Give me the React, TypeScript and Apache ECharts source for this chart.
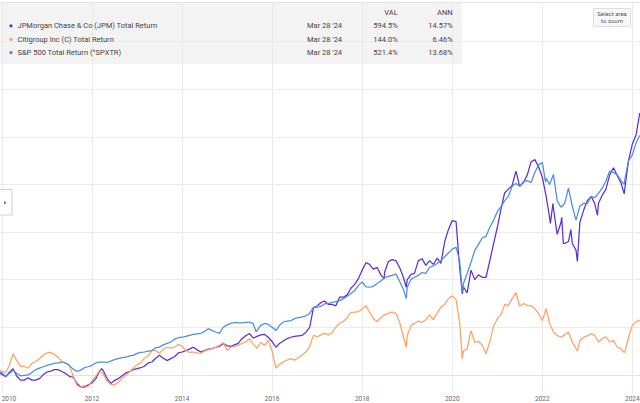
import React, { useEffect, useRef } from "react";
import * as echarts from "echarts";

// Monthly points (1st of each month), starting December 2009
const FIRST_YEAR = 2009;
const FIRST_MONTH_INDEX = 11;

// Total return (%)
const jpmMonthly = [
  5,
  1, -4, 5, 13, -3, -11, -11, -6, -11, -11, -8, 0,
  6, 8, 11, 11, 7, 3, -3, -5, -18, -25, -26, -21,
  -17, -8, 7, 9, -7, -18, -12, -8, -2, 4, 7, 11,
  13, 15, 18, 25, 27, 35, 41, 35, 30, 34, 38, 46,
  48, 51, 54, 58, 53, 48, 51, 54, 55, 58, 60, 66,
  61, 60, 63, 66, 76, 82, 87, 77, 81, 84, 85, 79,
  70, 58, 66, 71, 76, 79, 81, 82, 83, 89, 100, 140,
  145, 152, 155, 148, 148, 145, 163, 163, 168, 182, 190, 202,
  220, 236, 232, 222, 226, 210, 215, 238, 242, 240, 225, 205,
  200, 211, 213, 240, 244, 230, 240, 232, 245, 234, 280, 305,
  324, 322, 225, 185, 172, 220, 200, 210, 205, 205, 240, 275,
  310, 350, 382, 390, 398, 428, 396, 404, 420, 447, 452, 437,
  415, 375, 330, 350, 295, 320, 276, 280, 276, 262, 320, 345,
  366, 375, 360, 360, 377, 390, 420, 435, 418, 403, 392, 450,
  485, 505, 550,
];
const jpmExtraDates = [
  "2012-03-20", "2018-06-28", "2018-12-24", "2020-03-23", "2022-03-07", "2022-03-28",
  "2022-06-07", "2022-06-20", "2022-08-20", "2022-10-12", "2023-03-24", "2023-10-27",
];
const jpmExtraValues = [13, 202, 184, 170, 318, 360, 331, 276, 305, 238, 335, 380];

const citiMonthly = [
  12,
  7, 5, 20, 44, 30, 18, 18, 14, 24, 28, 34, 41,
  46, 47, 43, 37, 28, 24, 21, -2, -22, -26, -22, -25,
  -12, -3, 9, 2, -12, -20, -21, -16, -7, -1, 6, 14,
  21, 26, 35, 40, 51, 51, 45, 54, 58, 56, 58, 64,
  60, 51, 47, 48, 46, 45, 50, 53, 55, 58, 62, 68,
  51, 58, 60, 62, 66, 69, 76, 64, 56, 68, 62, 72,
  50, 14, 22, 27, 31, 34, 31, 36, 42, 48, 60, 83,
  80, 84, 88, 84, 88, 100, 108, 112, 120, 131, 132, 133,
  138, 145, 132, 118, 112, 120, 126, 129, 132, 129, 110, 80,
  82, 104, 108, 113, 110, 116, 126, 116, 130, 142, 148, 160,
  166, 158, 110, 50, 55, 93, 69, 70, 62, 44, 70, 102,
  118, 127, 148, 146, 160, 173, 144, 150, 146, 145, 139, 129,
  114, 139, 108, 90, 83, 79, 84, 90, 69, 55, 72, 79,
  82, 86, 83, 69, 76, 80, 69, 72, 58, 55, 48, 79,
  104, 112, 115,
];
const citiExtraDates = ["2018-12-24", "2020-03-23", "2022-10-12", "2023-10-27"];
const citiExtraValues = [58, 34, 50, 47];

const spxMonthly = [
  7,
  4, -3, 3, 9, 3, -2, -1, 0, 5, 11, 14, 17,
  20, 22, 24, 25, 27, 25, 20, 12, 7, 10, 15, 17,
  20, 25, 27, 27, 26, 29, 32, 34, 36, 37, 40, 41,
  45, 47, 48, 50, 51, 57, 58, 63, 66, 69, 75, 78,
  79, 81, 83, 85, 86, 87, 91, 97, 93, 90, 87, 100,
  105, 108, 110, 109, 109, 110, 111, 107, 93, 104, 108, 106,
  100, 93, 104, 111, 113, 114, 118, 120, 122, 124, 129, 142,
  142, 144, 149, 150, 152, 154, 156, 160, 165, 171, 177, 188,
  195, 185, 184, 186, 192, 197, 204, 207, 209, 212, 196, 180,
  184, 201, 205, 209, 215, 213, 226, 229, 234, 240, 248, 256,
  264, 268, 240, 192, 213, 236, 261, 274, 288, 291, 310, 324,
  343, 354, 366, 375, 396, 402, 396, 406, 408, 404, 425, 441,
  446, 413, 400, 421, 366, 352, 360, 392, 354, 325, 354, 360,
  360, 375, 372, 381, 392, 407, 428, 425, 420, 408, 410, 450,
  462, 488, 503,
];
const spxExtraDates = ["2015-08-25", "2018-12-24", "2020-03-23", "2022-01-27", "2023-10-27"];
const spxExtraValues = [90, 160, 174, 405, 400];

const seriesNames = [
  "JPMorgan Chase & Co (JPM) Total Return",
  "Citigroup Inc (C) Total Return",
  "S&P 500 Total Return (^SPXTR)",
];
const seriesColors = ["#5d30d4", "#ffa064", "#4a8fdf"];
const valPct = [594.5, 144.0, 521.4];
const annPct = [14.57, 6.46, 13.68];
const asOfLabel = "Mar 28 '24";

const xTickYears = [2010, 2012, 2014, 2016, 2018, 2020, 2022, 2024];
const yGridValues = [0, 100, 200, 300, 400, 500, 600, 700];

const FONT = "Roboto, 'Noto Sans', Arial, sans-serif";

function toTs(s: string): number {
  const [y, m, d] = s.split("-").map(Number);
  return new Date(y, m - 1, d).getTime();
}

function buildData(monthly: number[], exDates: string[], exValues: number[]): [number, number][] {
  const pts: [number, number][] = monthly.map((v, i) => [
    new Date(FIRST_YEAR, FIRST_MONTH_INDEX + i, 1).getTime(),
    v,
  ]);
  exDates.forEach((d, i) => pts.push([toTs(d), exValues[i]]));
  pts.sort((a, b) => a[0] - b[0]);
  return pts;
}

export default function App() {
  const ref = useRef<HTMLDivElement>(null);

  useEffect(() => {
    if (!ref.current) return;
    const chart = echarts.init(ref.current, undefined, { renderer: "svg" });
    const tickTs = xTickYears.map((y) => new Date(y, 0, 1).getTime());
    const datasets = [
      buildData(jpmMonthly, jpmExtraDates, jpmExtraValues),
      buildData(citiMonthly, citiExtraDates, citiExtraValues),
      buildData(spxMonthly, spxExtraDates, spxExtraValues),
    ];

    const rowY = [25.8, 39.3, 52.7];
    const txt = (x: number, y: number, text: string, align: string, size = 7.5, fill = "#444", z = 101) => ({
      type: "text",
      x,
      y,
      style: { text, fill, fontSize: size, fontFamily: FONT, align, verticalAlign: "middle" },
      z,
    });
    const graphics: any[] = [
      {
        type: "line",
        shape: { x1: 0, y1: 2.5, x2: 640, y2: 2.5 },
        style: { stroke: "#e4e4e4", lineWidth: 1 },
        z: 100,
      },
      {
        type: "rect",
        shape: { x: 0, y: 3, width: 462, height: 61 },
        style: { fill: "rgba(234,234,234,0.55)" },
        z: 100,
      },
      txt(397.7, 12.5, "VAL", "right"),
      txt(452.7, 12.5, "ANN", "right"),
    ];
    seriesNames.forEach((name, r) => {
      const y = rowY[r];
      graphics.push(
        { type: "circle", shape: { cx: 11, cy: y, r: 1.6 }, style: { fill: seriesColors[r] }, z: 101 },
        txt(17.5, y, name, "left"),
        txt(307, y, asOfLabel, "left"),
        txt(397.7, y, valPct[r].toFixed(1) + "%", "right"),
        txt(452.7, y, annPct[r].toFixed(2) + "%", "right")
      );
    });
    graphics.push(
      {
        type: "rect",
        shape: { x: 593.5, y: 8.5, width: 37, height: 18 },
        style: { fill: "#f7f7f7", stroke: "#dedede", lineWidth: 1 },
        z: 101,
      },
      txt(612, 13.4, "Select area", "center", 6, "#555", 102),
      txt(612, 20.8, "to zoom", "center", 6, "#555", 102),
      {
        type: "rect",
        shape: { x: -2, y: 189.5, width: 14, height: 25.5 },
        style: { fill: "#ffffff", stroke: "#cfcfcf", lineWidth: 1 },
        z: 101,
      },
      {
        type: "polygon",
        shape: { points: [[4, 200.8], [6.8, 202.8], [4, 204.8]] },
        style: { fill: "#888888" },
        z: 102,
      }
    );

    const option: any = {
      animation: false,
      backgroundColor: "#ffffff",
      grid: { left: 0, right: 0, top: 3, bottom: 11, containLabel: false, outerBoundsMode: "none" },
      xAxis: {
        type: "value",
        min: new Date(2009, 11, 16).getTime(),
        max: new Date(2024, 2, 3).getTime(),
        scale: true,
        axisLine: { show: true, lineStyle: { color: "#e2e2e2", width: 1 } },
        axisTick: { show: false, customValues: tickTs },
        axisLabel: {
          customValues: tickTs,
          fontSize: 6.5,
          color: "#666",
          fontFamily: FONT,
          margin: 3,
          formatter: (v: number) => {
            const y = String(new Date(v).getFullYear());
            return v === tickTs[0] ? "{first|" + y + "}" : y;
          },
          rich: {
            first: { padding: [0, 0, 0, 14], fontSize: 6.5, color: "#666", fontFamily: FONT },
          },
        },
        splitLine: { show: true, lineStyle: { color: "#ebebeb", width: 1 } },
      },
      yAxis: {
        type: "value",
        min: -36,
        max: 781,
        axisLine: { show: false },
        axisTick: { show: false, customValues: yGridValues },
        axisLabel: { show: false, customValues: yGridValues },
        splitLine: { show: true, lineStyle: { color: "#ebebeb", width: 1 } },
      },
      series: datasets.map((data, i) => ({
        name: seriesNames[i],
        type: "line",
        data,
        showSymbol: false,
        symbol: "none",
        clip: true,
        lineStyle: { color: seriesColors[i], width: 1.25 },
        itemStyle: { color: seriesColors[i] },
      })),
      graphic: graphics,
    };
    chart.setOption(option);
    return () => chart.dispose();
  }, []);

  return (
    <div
      ref={ref}
      style={{ position: "absolute", left: 0, top: 0, width: 640, height: 403 }}
    />
  );
}
